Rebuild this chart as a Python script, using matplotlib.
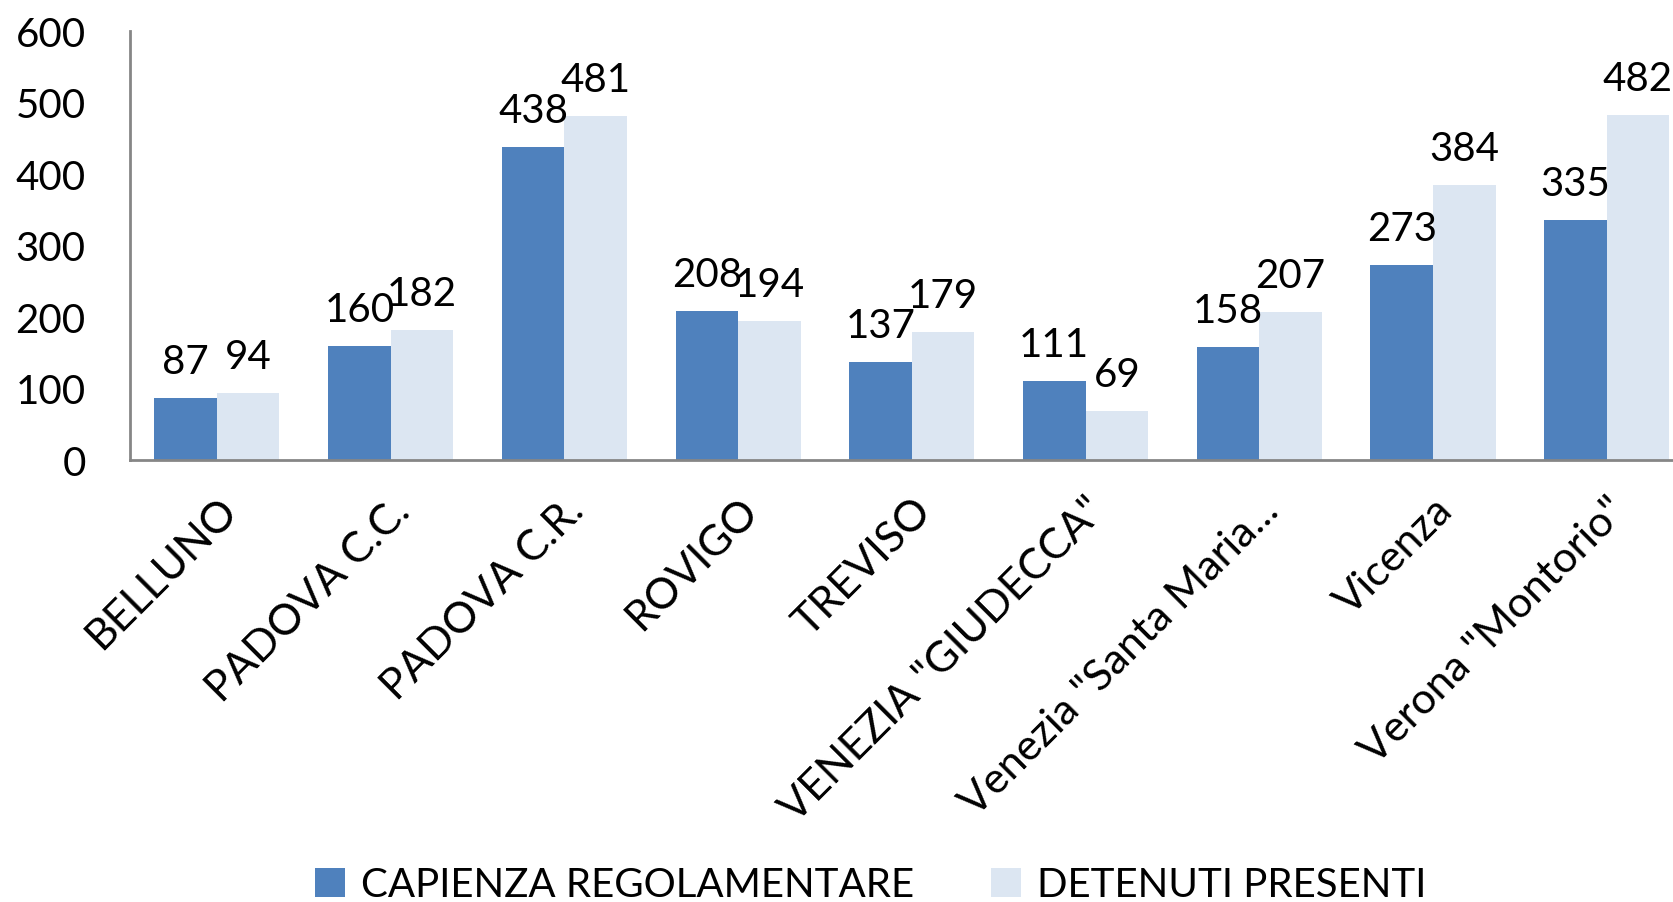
import matplotlib
matplotlib.use("Agg")
import matplotlib.pyplot as plt
import numpy as np

categories = ["BELLUNO", "PADOVA C.C.", "PADOVA C.R.", "ROVIGO", "TREVISO",
              "VENEZIA \"GIUDECCA\"", "Venezia \"Santa Maria...", "Vicenza",
              "Verona \"Montorio\""]
capienza = [87, 160, 438, 208, 137, 111, 158, 273, 335]
detenuti = [94, 182, 481, 194, 179, 69, 207, 384, 482]
series_names = ["CAPIENZA REGOLAMENTARE", "DETENUTI PRESENTI"]
yticks = [0, 100, 200, 300, 400, 500, 600]

plt.rcParams['font.family'] = ['Lato', 'DejaVu Sans']

fig = plt.figure(figsize=(16.74, 9.03), dpi=100)
ax = fig.add_axes([0.0777, 0.4895, 0.934, 0.4751])

x = np.arange(len(categories))
w = 0.36
c1, c2 = "#4F81BD", "#DCE6F2"
b1 = ax.bar(x - w / 2, capienza, w, color=c1, label=series_names[0])
b2 = ax.bar(x + w / 2, detenuti, w, color=c2, label=series_names[1])

fs = 29
for bars in (b1, b2):
    for r in bars:
        ax.annotate(str(int(r.get_height())), (r.get_x() + r.get_width() / 2, r.get_height()),
                    xytext=(0, 13), textcoords="offset points", ha="center", va="bottom",
                    fontsize=29, color="black")

ax.set_xlim(-0.5, len(categories) - 0.5)
ax.set_ylim(0, 600)
ax.set_yticks(yticks)
ax.set_yticklabels([str(v) for v in yticks], fontsize=fs)
ax.set_xticks(x)
ax.set_xticklabels(categories, fontsize=31, rotation=45, ha="right", rotation_mode="anchor")
ax.tick_params(axis="both", length=0)
ax.tick_params(axis="y", pad=32)
ax.tick_params(axis="x", pad=22)
for s in ["top", "right"]:
    ax.spines[s].set_visible(False)
for s in ["left", "bottom"]:
    ax.spines[s].set_color("#868686")
    ax.spines[s].set_linewidth(2)

fig.legend(handles=[b1, b2], labels=series_names, loc="center", bbox_to_anchor=(0.52, 0.019),
           ncol=2, frameon=False, fontsize=fs, handlelength=0.75, handleheight=0.75,
           handletextpad=0.4, columnspacing=1.9)

fig.savefig("out.png", dpi=100)
